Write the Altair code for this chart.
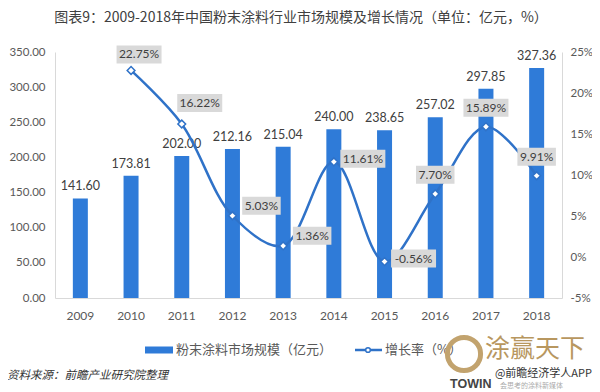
import altair as alt
import pandas as pd

# ---------------- data ----------------
years = ["2009", "2010", "2011", "2012", "2013", "2014", "2015", "2016", "2017", "2018"]
market_size = [141.60, 173.81, 202.00, 212.16, 215.04, 240.00, 238.65, 257.02, 297.85, 327.36]
growth = [None, 22.75, 16.22, 5.03, 1.36, 11.61, -0.56, 7.70, 15.89, 9.91]
label_place = [None, "aboveR", "upright", "rightup", "rightup", "right", "right", "above", "above", "above"]

title_text = "图表9：2009-2018年中国粉末涂料行业市场规模及增长情况（单位：亿元，%）"
bar_series = "粉末涂料市场规模（亿元）"
line_series = "增长率（%）"
source_text = "资料来源：前瞻产业研究院整理"

# ---------------- style ----------------
W, H = 507, 246
PAD = {"left": 47, "top": 44, "right": 30, "bottom": 94}
BAR = "#2F7BD8"
LINE = "#2F72C8"
BOX = "#D9D9D9"
TXT = "#404040"
AX = "#595959"
NUM_FONT = "Lato"
CJK = "Noto Sans CJK SC"
G_MIN, G_MAX = -5, 25
K = (G_MAX - G_MIN) / H  # growth units per pixel
PLACE = {
    "above": (0, -19),
    "aboveR": (8, -16),
    "upright": (18, -21),
    "rightup": (29, -10),
    "right": (29, -3),
}

df = pd.DataFrame({"year": years, "size": market_size, "g": growth, "place": label_place})
df["size_label"] = [f"{v:.2f}" for v in market_size]
df["g_label"] = [f"{v:.2f}%" if v is not None else "" for v in growth]

x_enc = alt.X(
    "year:N",
    title=None,
    scale=alt.Scale(paddingInner=0, paddingOuter=0),
    axis=alt.Axis(labelAngle=0, ticks=False, domainColor="#D9D9D9", labelColor=AX,
                  labelFontSize=12, labelFont=NUM_FONT, labelPadding=12),
)

y_left_axis = alt.Axis(values=list(range(0, 351, 50)), format=".2f", grid=False, ticks=False,
                       domainColor="#D9D9D9", labelColor=AX, labelFontSize=11.5,
                       labelFont=NUM_FONT, labelPadding=10, title=None)
y_left_scale = alt.Scale(domain=[0, 350], nice=False)

y_right_axis = alt.Axis(values=list(range(G_MIN, G_MAX + 1, 5)), labelExpr="datum.value + '%'",
                        orient="right", grid=False, ticks=False, domainColor="#D9D9D9",
                        labelColor=AX, labelFontSize=11.5, labelFont=NUM_FONT,
                        labelPadding=8, title=None)
y_right_scale = alt.Scale(domain=[G_MIN, G_MAX], nice=False)

base = alt.Chart(df)

bars = base.mark_bar(size=15, color=BAR).encode(
    x=x_enc, y=alt.Y("size:Q", scale=y_left_scale, axis=y_left_axis)
)
bar_text = base.mark_text(dy=-12, font=NUM_FONT, fontSize=12.5, color=TXT).encode(
    x=x_enc, y=alt.Y("size:Q", scale=y_left_scale, axis=y_left_axis), text="size_label:N"
)
bar_group = alt.layer(bars, bar_text)

gbase = base.transform_filter("isValid(datum.g)")
line = gbase.mark_line(interpolate="catmull-rom", color=LINE, strokeWidth=2.5).encode(
    x=x_enc, y=alt.Y("g:Q", scale=y_right_scale, axis=y_right_axis)
)
points = gbase.mark_point(shape="diamond", filled=True, fill="white", stroke=LINE,
                          strokeWidth=1.5, size=60, opacity=1).encode(
    x=x_enc, y=alt.Y("g:Q", scale=y_right_scale, axis=y_right_axis)
)

g_layers = [line, points]
for key, (dx, dy) in PLACE.items():
    sub = gbase.transform_filter(alt.datum.place == key)
    box = sub.transform_calculate(
        bw="length(datum.g_label) * 6.5 + 6",
        y_top=f"datum.g + {(-dy + 9) * K}",
        y_bot=f"datum.g + {(-dy - 9) * K}",
    ).mark_bar(color=BOX, xOffset=dx).encode(
        x=x_enc,
        y=alt.Y("y_top:Q", scale=y_right_scale, axis=y_right_axis),
        y2="y_bot:Q",
        size=alt.Size("bw:Q", scale=None, legend=None),
    )
    txt = sub.mark_text(dx=dx, dy=dy, font=NUM_FONT, fontSize=12, color=TXT).encode(
        x=x_enc, y=alt.Y("g:Q", scale=y_right_scale, axis=y_right_axis), text="g_label:N"
    )
    g_layers += [box, txt]
growth_group = alt.layer(*g_layers)

# ---------------- annotations ----------------
one = alt.Chart(pd.DataFrame({"k": [0]}))
OX, OY = 8 + PAD["left"], 8 + PAD["top"]  # plot origin on the page


def px(x):
    return alt.value(x - OX)


def py(y):
    return alt.value(y - OY)


title = one.mark_text(text=title_text, font=CJK, fontSize=14, color=TXT,
                      align="center", baseline="middle").encode(x=px(301), y=py(18))
leg_rect = one.mark_rect(color=BAR).encode(x=px(145), x2=px(173), y=py(346.5), y2=py(353.5))
leg_text1 = one.mark_text(text=bar_series, font=CJK, fontSize=13, color=AX, align="left",
                          baseline="middle").encode(x=px(176), y=py(350))
leg_line = one.mark_rule(color=LINE, strokeWidth=2.5).encode(x=px(355), x2=px(382), y=py(350))
leg_pt = one.mark_point(shape="circle", filled=True, fill="white", stroke=LINE, strokeWidth=1.5,
                        size=22, opacity=1).encode(x=px(368), y=py(350))
leg_text2 = one.mark_text(text=line_series, font=CJK, fontSize=13, color=AX, align="left",
                          baseline="middle").encode(x=px(385), y=py(350))
source = one.mark_text(text=source_text, font=CJK, fontSize=11.5, fontStyle="italic", color="#333333",
                       align="left", baseline="middle").encode(x=px(7), y=py(376))
logo_ring = one.mark_point(shape="circle", filled=False, stroke="#C2A36E", strokeWidth=5,
                           size=1100, opacity=1).encode(x=px(464), y=py(354))
logo_cn = one.mark_text(text="涂赢天下", font=CJK, fontSize=25, color="#B8975F", align="left",
                        baseline="middle").encode(x=px(485), y=py(349))
logo_app = one.mark_text(text="@前瞻经济学人APP", font=CJK, fontSize=11, color="#333333",
                         align="right", baseline="middle").encode(x=px(592), y=py(374))
logo_en = one.mark_text(text="TOWIN", font="Liberation Sans", fontSize=12.5, fontWeight="bold",
                        color="#444444", align="left", baseline="middle").encode(x=px(450), y=py(384))
logo_sub = one.mark_text(text="会思考的涂料新媒体", font=CJK, fontSize=7, color="#AAAAAA",
                         align="left", baseline="middle").encode(x=px(500), y=py(386))

chart = alt.layer(
    bar_group, growth_group,
    title, leg_rect, leg_text1, leg_line, leg_pt, leg_text2, source,
    logo_ring, logo_cn, logo_app, logo_en, logo_sub,
).resolve_scale(y="independent").properties(
    width=W, height=H, padding=PAD, autosize="none", background="white"
).configure_view(stroke=None)

chart.save("out.html", embed_options={"renderer": "svg", "actions": False})
